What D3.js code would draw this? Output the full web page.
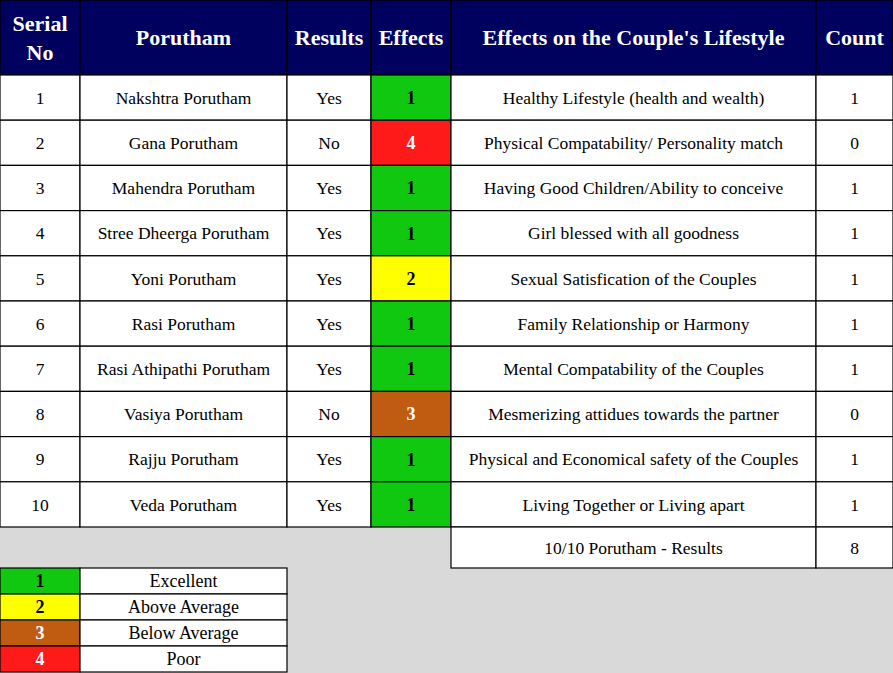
<!DOCTYPE html>
<html><head><meta charset="utf-8">
<script src="https://cdn.jsdelivr.net/npm/d3@7"></script>
<style>body{margin:0;background:#d9d9d9}svg{display:block;font-family:"Liberation Serif","DejaVu Serif",serif}</style>
</head><body>
<script>
var headers = ["Serial\nNo", "Porutham", "Results", "Effects", "Effects on the Couple's Lifestyle", "Count"];
var poruthams = ["Nakshtra Porutham","Gana Porutham","Mahendra Porutham","Stree Dheerga Porutham","Yoni Porutham","Rasi Porutham","Rasi Athipathi Porutham","Vasiya Porutham","Rajju Porutham","Veda Porutham"];
var results = ["Yes","No","Yes","Yes","Yes","Yes","Yes","No","Yes","Yes"];
var effects = [1,4,1,1,2,1,1,3,1,1];
var lifestyles = ["Healthy Lifestyle (health and wealth)","Physical Compatability/ Personality match","Having Good Children/Ability to conceive","Girl blessed with all goodness","Sexual Satisfication of the Couples","Family Relationship or Harmony","Mental Compatability of the Couples","Mesmerizing attidues towards the partner","Physical and Economical safety of the Couples","Living Together or Living apart"];
var counts = [1,0,1,1,1,1,1,0,1,1];
var summaryLabel = "10/10 Porutham - Results", summaryCount = 8;
var legendLevels = [1,2,3,4];
var legendLabels = ["Excellent","Above Average","Below Average","Poor"];

var W = 893, H = 673;
var colEdges = [0,80,287,371,451,816,893];
var effColor = d3.scaleOrdinal().domain([1,2,3,4]).range(["#11c811","#ffff00","#bf5c12","#ff1a1a"]);
var effText = d3.scaleOrdinal().domain([1,2,3,4]).range(["#000","#000","#fff","#fff"]);

var svg = d3.select("body").append("svg").attr("width",W).attr("height",H);
svg.append("rect").attr("width",W).attr("height",H).attr("fill","#d9d9d9");

var y = d3.scaleBand().domain(d3.range(10)).range([75,527]);
var ly = d3.scaleBand().domain(legendLevels).range([568,672]);

function cell(x0,x1,y0,y1,fill,text,opt){
  opt = opt||{};
  svg.append("rect").attr("x",x0).attr("y",y0).attr("width",x1-x0).attr("height",y1-y0)
     .attr("fill",fill).attr("stroke","#000").attr("stroke-width",1.2);
  var lines = String(text).split("\n");
  var fs = opt.size||17.5, lh = fs*1.3;
  var t = svg.append("text").attr("x",(x0+x1)/2).attr("text-anchor","middle")
     .attr("font-size",fs).attr("font-weight",opt.bold?"bold":"normal").attr("fill",opt.color||"#000");
  lines.forEach(function(l,i){
    t.append("tspan").attr("x",(x0+x1)/2)
     .attr("y",(y0+y1)/2 + (i-(lines.length-1)/2)*lh).attr("dy","0.35em").text(l);
  });
}

headers.forEach(function(h,i){
  cell(colEdges[i],colEdges[i+1],0,75,"#00005e",h,{bold:true,size:22,color:"#fff"});
});
d3.range(10).forEach(function(i){
  var y0 = y(i), y1 = y0+y.bandwidth();
  var vals = [i+1, poruthams[i], results[i], effects[i], lifestyles[i], counts[i]];
  vals.forEach(function(v,c){
    if(c===3) cell(colEdges[3],colEdges[4],y0,y1,effColor(v),v,{bold:true,size:18,color:effText(v)});
    else cell(colEdges[c],colEdges[c+1],y0,y1,"#fff",v);
  });
});
cell(colEdges[4],colEdges[5],527,568,"#fff",summaryLabel);
cell(colEdges[5],colEdges[6],527,568,"#fff",summaryCount);
legendLevels.forEach(function(l,i){
  var y0 = ly(l), y1 = y0+ly.bandwidth();
  cell(0,80,y0,y1,effColor(l),l,{bold:true,size:18,color:effText(l)});
  cell(80,287,y0,y1,"#fff",legendLabels[i],{size:18});
});
</script>
</body></html>
